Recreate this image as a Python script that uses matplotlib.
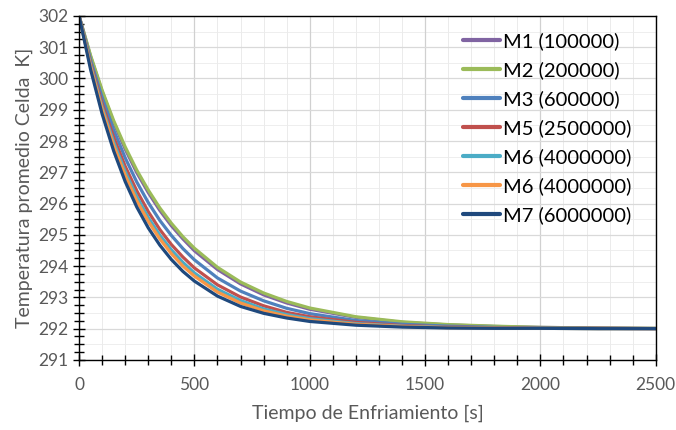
import matplotlib.pyplot as plt
from matplotlib.ticker import MultipleLocator

# tiempo de enfriamiento [s]
tiempo = [0, 50, 100, 150, 200, 250, 300, 350, 400, 450, 500, 600, 700,
          800, 900, 1000, 1200, 1400, 1600, 1800, 2000, 2250, 2500]

# temperatura promedio de celda [K] por malla
m1 = [302.00, 300.70, 299.58, 298.59, 297.74, 296.99, 296.35, 295.78, 295.29, 294.87,
      294.49, 293.89, 293.43, 293.08, 292.82, 292.62, 292.36, 292.20, 292.12, 292.07,
      292.04, 292.02, 292.01]
m2 = [302.00, 300.73, 299.62, 298.65, 297.81, 297.07, 296.43, 295.86, 295.37, 294.94,
      294.57, 293.96, 293.49, 293.14, 292.87, 292.66, 292.38, 292.22, 292.13, 292.08,
      292.04, 292.02, 292.01]
m3 = [302.00, 300.59, 299.39, 298.35, 297.46, 296.69, 296.03, 295.46, 294.98, 294.56,
      294.20, 293.62, 293.20, 292.89, 292.65, 292.48, 292.26, 292.14, 292.08, 292.04,
      292.02, 292.01, 292.00]
m5 = [302.00, 300.49, 299.20, 298.12, 297.19, 296.41, 295.74, 295.17, 294.69, 294.29,
      293.94, 293.40, 293.01, 292.73, 292.52, 292.38, 292.20, 292.10, 292.05, 292.03,
      292.01, 292.01, 292.00]
m6a = [302.00, 300.42, 299.08, 297.96, 297.02, 296.22, 295.55, 294.99, 294.52, 294.12,
       293.78, 293.26, 292.90, 292.63, 292.45, 292.32, 292.16, 292.08, 292.04, 292.02,
       292.01, 292.00, 292.00]
m6b = [302.00, 300.37, 299.00, 297.85, 296.90, 296.09, 295.43, 294.87, 294.40, 294.00,
       293.68, 293.17, 292.82, 292.57, 292.40, 292.28, 292.14, 292.07, 292.03, 292.02,
       292.01, 292.00, 292.00]
m7 = [302.00, 300.28, 298.86, 297.68, 296.70, 295.89, 295.22, 294.67, 294.21, 293.83,
      293.52, 293.04, 292.71, 292.49, 292.34, 292.23, 292.11, 292.05, 292.02, 292.01,
      292.01, 292.00, 292.00]

etiquetas = ["M1 (100000)", "M2 (200000)", "M3 (600000)", "M5 (2500000)",
             "M6 (4000000)", "M6 (4000000)", "M7 (6000000)"]
series = [m1, m2, m3, m5, m6a, m6b, m7]
colores = ["#8064A2", "#9BBB59", "#4F81BD", "#C0504D", "#4BACC6", "#F79646", "#1F497D"]

plt.rcParams['font.family'] = ['Lato', 'DejaVu Sans']

fig = plt.figure(figsize=(6.76, 4.30), dpi=100)
ax = fig.add_axes([0.117, 0.163, 0.853, 0.800])

for y, lab, c in zip(series, etiquetas, colores):
    ax.plot(tiempo, y, color=c, lw=2.3, label=lab, solid_capstyle='round')

ax.set_xlim(0, 2500)
ax.set_ylim(291, 302)
ax.xaxis.set_major_locator(MultipleLocator(500))
ax.xaxis.set_minor_locator(MultipleLocator(100))
ax.yaxis.set_major_locator(MultipleLocator(1))
ax.yaxis.set_minor_locator(MultipleLocator(0.25))

# rejilla
ax.grid(which='major', axis='x', color='#D0D0D0', lw=0.9)
ax.grid(which='minor', axis='x', color='#EBEBEB', lw=0.7)
ax.grid(which='major', axis='y', color='#D9D9D9', lw=0.9)
for yy in range(291, 302):
    ax.axhline(yy + 0.5, color='#EEEEEE', lw=0.7, zorder=0)
ax.set_axisbelow(True)

for s in ax.spines.values():
    s.set_color('black')
    s.set_linewidth(1.0)

ax.tick_params(which='major', direction='inout', length=9, width=1, color='black',
               labelsize=12.5, labelcolor='#595959')
ax.tick_params(which='minor', direction='inout', length=7, width=1, color='black')
ax.tick_params(axis='x', which='major', pad=8)
ax.tick_params(axis='y', which='major', pad=3)
ax.tick_params(top=False, right=False, which='both')

ax.set_xlabel("Tiempo de Enfriamiento [s]", fontsize=14, color='#595959', labelpad=8)
ax.set_ylabel("Temperatura promedio Celda  K]", fontsize=14, color='#595959', labelpad=4)

leg = ax.legend(loc='upper right', bbox_to_anchor=(0.958, 0.952), frameon=False,
                fontsize=14.5, handlelength=1.85, handletextpad=0.15, labelspacing=0.55,
                borderaxespad=0, borderpad=0)
for line in leg.get_lines():
    line.set_linewidth(3)

fig.savefig("out.png", dpi=100)
